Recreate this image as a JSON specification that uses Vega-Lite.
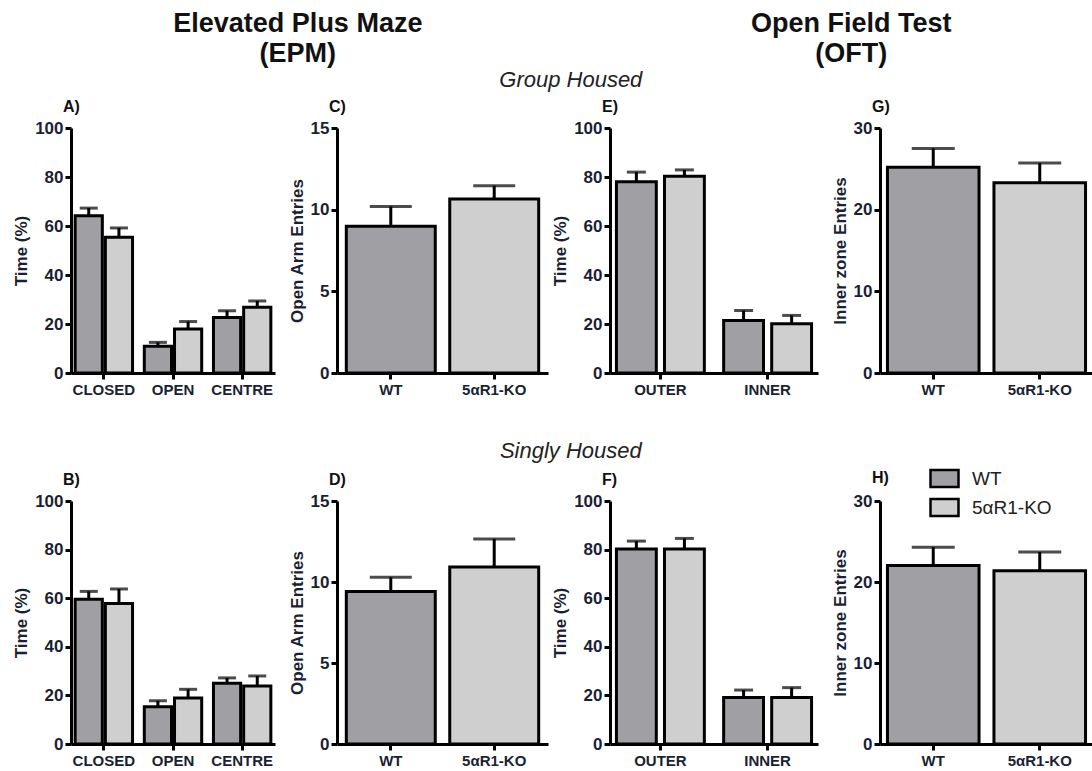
{
  "$schema": "https://vega.github.io/schema/vega-lite/v6.json",
  "padding": {"left": 12, "top": 8, "right": 0, "bottom": 0},
  "background": "white",
  "spacing": 2,
  "datasets": {
    "A": [
      {"zone": "CLOSED", "genotype": "WT", "mean": 64.2, "upper": 67.3},
      {"zone": "CLOSED", "genotype": "5αR1-KO", "mean": 55.4, "upper": 59.2},
      {"zone": "OPEN", "genotype": "WT", "mean": 10.9, "upper": 12.5},
      {"zone": "OPEN", "genotype": "5αR1-KO", "mean": 18.0, "upper": 21.0},
      {"zone": "CENTRE", "genotype": "WT", "mean": 22.7, "upper": 25.4},
      {"zone": "CENTRE", "genotype": "5αR1-KO", "mean": 26.8, "upper": 29.4}
    ],
    "B": [
      {"zone": "CLOSED", "genotype": "WT", "mean": 59.6, "upper": 62.8},
      {"zone": "CLOSED", "genotype": "5αR1-KO", "mean": 57.8, "upper": 63.8},
      {"zone": "OPEN", "genotype": "WT", "mean": 15.3, "upper": 17.8},
      {"zone": "OPEN", "genotype": "5αR1-KO", "mean": 18.9, "upper": 22.5},
      {"zone": "CENTRE", "genotype": "WT", "mean": 25.0, "upper": 27.2},
      {"zone": "CENTRE", "genotype": "5αR1-KO", "mean": 23.9, "upper": 28.0}
    ],
    "C": [
      {"genotype": "WT", "mean": 8.98, "upper": 10.2},
      {"genotype": "5αR1-KO", "mean": 10.65, "upper": 11.47}
    ],
    "D": [
      {"genotype": "WT", "mean": 9.41, "upper": 10.29},
      {"genotype": "5αR1-KO", "mean": 10.92, "upper": 12.66}
    ],
    "E": [
      {"zone": "OUTER", "genotype": "WT", "mean": 78.1, "upper": 82.0},
      {"zone": "OUTER", "genotype": "5αR1-KO", "mean": 80.3, "upper": 82.9},
      {"zone": "INNER", "genotype": "WT", "mean": 21.4, "upper": 25.5},
      {"zone": "INNER", "genotype": "5αR1-KO", "mean": 20.1, "upper": 23.5}
    ],
    "F": [
      {"zone": "OUTER", "genotype": "WT", "mean": 80.2, "upper": 83.5},
      {"zone": "OUTER", "genotype": "5αR1-KO", "mean": 80.2, "upper": 84.6},
      {"zone": "INNER", "genotype": "WT", "mean": 19.1, "upper": 22.2},
      {"zone": "INNER", "genotype": "5αR1-KO", "mean": 19.1, "upper": 23.2}
    ],
    "G": [
      {"genotype": "WT", "mean": 25.2, "upper": 27.5},
      {"genotype": "5αR1-KO", "mean": 23.3, "upper": 25.7}
    ],
    "H": [
      {"genotype": "WT", "mean": 22.05, "upper": 24.3},
      {"genotype": "5αR1-KO", "mean": 21.4, "upper": 23.7}
    ],
    "header": [
      {"test": "Elevated Plus Maze\n(EPM)"},
      {"test": "Open Field Test\n(OFT)"}
    ]
  },
  "resolve": {"legend": {"fill": "independent"}, "scale": {"xOffset": "independent"}},
  "vconcat": [
    {
      "width": 1007,
      "height": 32,
      "data": {"name": "header"},
      "mark": {"type": "text", "lineBreak": "\n", "fontSize": 27, "fontWeight": "bold", "lineHeight": 30, "baseline": "middle", "align": "center", "color": "#111111"},
      "encoding": {
        "x": {"field": "test", "type": "nominal", "scale": {"type": "point", "padding": 0.41}, "axis": null},
        "text": {"field": "test"}
      }
    },
    {
      "spacing": 43,
      "resolve": {"legend": {"fill": "independent"}, "scale": {"xOffset": "independent"}},
      "vconcat": [
        {
          "title": {"text": "Group Housed", "anchor": "middle", "frame": "bounds", "fontStyle": "italic", "fontWeight": "normal", "fontSize": 22, "color": "#222222", "offset": 7, "dx": 18},
          "bounds": "flush",
          "spacing": 62,
          "resolve": {"legend": {"fill": "independent"}, "scale": {"xOffset": "independent"}},
          "hconcat": [
            {
              "width": 204, "height": 245,
              "title": {"text": "A)"},
              "data": {"name": "A"},
              "encoding": {
                "x": {"field": "zone", "type": "nominal", "sort": ["CLOSED", "OPEN", "CENTRE"], "scale": {"paddingInner": 0.17, "paddingOuter": 0.06}, "axis": {"title": null}},
                "xOffset": {"field": "genotype", "type": "nominal", "sort": ["WT", "5αR1-KO"], "scale": {"paddingInner": 0.1}}
              },
              "layer": [
                {"mark": {"type": "bar", "stroke": "black", "strokeWidth": 3},
                 "encoding": {"y": {"field": "mean", "type": "quantitative", "scale": {"domain": [0, 100], "nice": false}, "axis": {"title": "Time (%)", "values": [0, 20, 40, 60, 80, 100]}},
                   "fill": {"field": "genotype", "type": "nominal", "scale": {"domain": ["WT", "5αR1-KO"], "range": ["#a0a0a4", "#cfcfcf"]}, "legend": null}}},
                {"mark": {"type": "rule", "strokeWidth": 3, "color": "black"},
                 "encoding": {"y": {"field": "mean", "type": "quantitative", "axis": {"title": "Time (%)", "values": [0, 20, 40, 60, 80, 100]}}, "y2": {"field": "upper"}}},
                {"mark": {"type": "tick", "thickness": 3, "size": 18, "color": "black"},
                 "encoding": {"y": {"field": "upper", "type": "quantitative", "axis": {"title": "Time (%)", "values": [0, 20, 40, 60, 80, 100]}}}}
              ]
            },
            {
              "width": 211, "height": 245,
              "title": {"text": "C)"},
              "data": {"name": "C"},
              "encoding": {
                "x": {"field": "genotype", "type": "nominal", "sort": ["WT", "5αR1-KO"], "scale": {"paddingInner": 0.14, "paddingOuter": 0.09}, "axis": {"title": null}}
              },
              "layer": [
                {"mark": {"type": "bar", "stroke": "black", "strokeWidth": 3},
                 "encoding": {"y": {"field": "mean", "type": "quantitative", "scale": {"domain": [0, 15], "nice": false}, "axis": {"title": "Open Arm Entries", "values": [0, 5, 10, 15]}},
                   "fill": {"field": "genotype", "type": "nominal", "scale": {"domain": ["WT", "5αR1-KO"], "range": ["#a0a0a4", "#cfcfcf"]}, "legend": null}}},
                {"mark": {"type": "rule", "strokeWidth": 3, "color": "black"},
                 "encoding": {"y": {"field": "mean", "type": "quantitative", "axis": {"title": "Open Arm Entries", "values": [0, 5, 10, 15]}}, "y2": {"field": "upper"}}},
                {"mark": {"type": "tick", "thickness": 3, "size": 42, "color": "black"},
                 "encoding": {"y": {"field": "upper", "type": "quantitative", "axis": {"title": "Open Arm Entries", "values": [0, 5, 10, 15]}}}}
              ]
            },
            {
              "width": 208, "height": 245,
              "title": {"text": "E)"},
              "data": {"name": "E"},
              "encoding": {
                "x": {"field": "zone", "type": "nominal", "sort": ["OUTER", "INNER"], "scale": {"paddingInner": 0.18, "paddingOuter": 0.06}, "axis": {"title": null}},
                "xOffset": {"field": "genotype", "type": "nominal", "sort": ["WT", "5αR1-KO"], "scale": {"paddingInner": 0.17}}
              },
              "layer": [
                {"mark": {"type": "bar", "stroke": "black", "strokeWidth": 3},
                 "encoding": {"y": {"field": "mean", "type": "quantitative", "scale": {"domain": [0, 100], "nice": false}, "axis": {"title": "Time (%)", "values": [0, 20, 40, 60, 80, 100]}},
                   "fill": {"field": "genotype", "type": "nominal", "scale": {"domain": ["WT", "5αR1-KO"], "range": ["#a0a0a4", "#cfcfcf"]}, "legend": null}}},
                {"mark": {"type": "rule", "strokeWidth": 3, "color": "black"},
                 "encoding": {"y": {"field": "mean", "type": "quantitative", "axis": {"title": "Time (%)", "values": [0, 20, 40, 60, 80, 100]}}, "y2": {"field": "upper"}}},
                {"mark": {"type": "tick", "thickness": 3, "size": 19, "color": "black"},
                 "encoding": {"y": {"field": "upper", "type": "quantitative", "axis": {"title": "Time (%)", "values": [0, 20, 40, 60, 80, 100]}}}}
              ]
            },
            {
              "width": 213, "height": 245,
              "title": {"text": "G)"},
              "data": {"name": "G"},
              "encoding": {
                "x": {"field": "genotype", "type": "nominal", "sort": ["WT", "5αR1-KO"], "scale": {"paddingInner": 0.14, "paddingOuter": 0.07}, "axis": {"title": null}}
              },
              "layer": [
                {"mark": {"type": "bar", "stroke": "black", "strokeWidth": 3},
                 "encoding": {"y": {"field": "mean", "type": "quantitative", "scale": {"domain": [0, 30], "nice": false}, "axis": {"title": "Inner zone Entries", "values": [0, 10, 20, 30]}},
                   "fill": {"field": "genotype", "type": "nominal", "scale": {"domain": ["WT", "5αR1-KO"], "range": ["#a0a0a4", "#cfcfcf"]}, "legend": null}}},
                {"mark": {"type": "rule", "strokeWidth": 3, "color": "black"},
                 "encoding": {"y": {"field": "mean", "type": "quantitative", "axis": {"title": "Inner zone Entries", "values": [0, 10, 20, 30]}}, "y2": {"field": "upper"}}},
                {"mark": {"type": "tick", "thickness": 3, "size": 43, "color": "black"},
                 "encoding": {"y": {"field": "upper", "type": "quantitative", "axis": {"title": "Inner zone Entries", "values": [0, 10, 20, 30]}}}}
              ]
            }
          ]
        },
        {
          "title": {"text": "Singly Housed", "anchor": "middle", "frame": "bounds", "fontStyle": "italic", "fontWeight": "normal", "fontSize": 22, "color": "#222222", "offset": 0, "dx": 18},
          "bounds": "flush",
          "spacing": 62,
          "resolve": {"legend": {"fill": "independent"}, "scale": {"xOffset": "independent"}},
          "hconcat": [
            {
              "width": 204, "height": 243,
              "title": {"text": "B)"},
              "data": {"name": "B"},
              "encoding": {
                "x": {"field": "zone", "type": "nominal", "sort": ["CLOSED", "OPEN", "CENTRE"], "scale": {"paddingInner": 0.17, "paddingOuter": 0.06}, "axis": {"title": null}},
                "xOffset": {"field": "genotype", "type": "nominal", "sort": ["WT", "5αR1-KO"], "scale": {"paddingInner": 0.1}}
              },
              "layer": [
                {"mark": {"type": "bar", "stroke": "black", "strokeWidth": 3},
                 "encoding": {"y": {"field": "mean", "type": "quantitative", "scale": {"domain": [0, 100], "nice": false}, "axis": {"title": "Time (%)", "values": [0, 20, 40, 60, 80, 100]}},
                   "fill": {"field": "genotype", "type": "nominal", "scale": {"domain": ["WT", "5αR1-KO"], "range": ["#a0a0a4", "#cfcfcf"]}, "legend": null}}},
                {"mark": {"type": "rule", "strokeWidth": 3, "color": "black"},
                 "encoding": {"y": {"field": "mean", "type": "quantitative", "axis": {"title": "Time (%)", "values": [0, 20, 40, 60, 80, 100]}}, "y2": {"field": "upper"}}},
                {"mark": {"type": "tick", "thickness": 3, "size": 18, "color": "black"},
                 "encoding": {"y": {"field": "upper", "type": "quantitative", "axis": {"title": "Time (%)", "values": [0, 20, 40, 60, 80, 100]}}}}
              ]
            },
            {
              "width": 211, "height": 243,
              "title": {"text": "D)"},
              "data": {"name": "D"},
              "encoding": {
                "x": {"field": "genotype", "type": "nominal", "sort": ["WT", "5αR1-KO"], "scale": {"paddingInner": 0.14, "paddingOuter": 0.09}, "axis": {"title": null}}
              },
              "layer": [
                {"mark": {"type": "bar", "stroke": "black", "strokeWidth": 3},
                 "encoding": {"y": {"field": "mean", "type": "quantitative", "scale": {"domain": [0, 15], "nice": false}, "axis": {"title": "Open Arm Entries", "values": [0, 5, 10, 15]}},
                   "fill": {"field": "genotype", "type": "nominal", "scale": {"domain": ["WT", "5αR1-KO"], "range": ["#a0a0a4", "#cfcfcf"]}, "legend": null}}},
                {"mark": {"type": "rule", "strokeWidth": 3, "color": "black"},
                 "encoding": {"y": {"field": "mean", "type": "quantitative", "axis": {"title": "Open Arm Entries", "values": [0, 5, 10, 15]}}, "y2": {"field": "upper"}}},
                {"mark": {"type": "tick", "thickness": 3, "size": 42, "color": "black"},
                 "encoding": {"y": {"field": "upper", "type": "quantitative", "axis": {"title": "Open Arm Entries", "values": [0, 5, 10, 15]}}}}
              ]
            },
            {
              "width": 208, "height": 243,
              "title": {"text": "F)"},
              "data": {"name": "F"},
              "encoding": {
                "x": {"field": "zone", "type": "nominal", "sort": ["OUTER", "INNER"], "scale": {"paddingInner": 0.18, "paddingOuter": 0.06}, "axis": {"title": null}},
                "xOffset": {"field": "genotype", "type": "nominal", "sort": ["WT", "5αR1-KO"], "scale": {"paddingInner": 0.17}}
              },
              "layer": [
                {"mark": {"type": "bar", "stroke": "black", "strokeWidth": 3},
                 "encoding": {"y": {"field": "mean", "type": "quantitative", "scale": {"domain": [0, 100], "nice": false}, "axis": {"title": "Time (%)", "values": [0, 20, 40, 60, 80, 100]}},
                   "fill": {"field": "genotype", "type": "nominal", "scale": {"domain": ["WT", "5αR1-KO"], "range": ["#a0a0a4", "#cfcfcf"]}, "legend": null}}},
                {"mark": {"type": "rule", "strokeWidth": 3, "color": "black"},
                 "encoding": {"y": {"field": "mean", "type": "quantitative", "axis": {"title": "Time (%)", "values": [0, 20, 40, 60, 80, 100]}}, "y2": {"field": "upper"}}},
                {"mark": {"type": "tick", "thickness": 3, "size": 19, "color": "black"},
                 "encoding": {"y": {"field": "upper", "type": "quantitative", "axis": {"title": "Time (%)", "values": [0, 20, 40, 60, 80, 100]}}}}
              ]
            },
            {
              "width": 213, "height": 243,
              "title": {"text": "H)", "offset": -23},
              "data": {"name": "H"},
              "encoding": {
                "x": {"field": "genotype", "type": "nominal", "sort": ["WT", "5αR1-KO"], "scale": {"paddingInner": 0.14, "paddingOuter": 0.07}, "axis": {"title": null}}
              },
              "layer": [
                {"mark": {"type": "bar", "stroke": "black", "strokeWidth": 3},
                 "encoding": {"y": {"field": "mean", "type": "quantitative", "scale": {"domain": [0, 30], "nice": false}, "axis": {"title": "Inner zone Entries", "values": [0, 10, 20, 30]}},
                   "fill": {"field": "genotype", "type": "nominal", "scale": {"domain": ["WT", "5αR1-KO"], "range": ["#a0a0a4", "#cfcfcf"]},
                     "legend": {"orient": "none", "legendX": 49, "legendY": -38, "title": null, "symbolType": "M-1,-0.6H1V0.6H-1Z", "symbolSize": 784, "symbolStrokeColor": "black", "symbolStrokeWidth": 2.5, "labelFontSize": 19, "labelFontWeight": "normal", "labelColor": "#222222", "labelOffset": 12, "rowPadding": -3}}}},
                {"mark": {"type": "rule", "strokeWidth": 3, "color": "black"},
                 "encoding": {"y": {"field": "mean", "type": "quantitative", "axis": {"title": "Inner zone Entries", "values": [0, 10, 20, 30]}}, "y2": {"field": "upper"}}},
                {"mark": {"type": "tick", "thickness": 3, "size": 43, "color": "black"},
                 "encoding": {"y": {"field": "upper", "type": "quantitative", "axis": {"title": "Inner zone Entries", "values": [0, 10, 20, 30]}}}}
              ]
            }
          ]
        }
      ]
    }
  ],
  "config": {
    "font": "Liberation Sans",
    "view": {"stroke": null},
    "axis": {
      "grid": false,
      "domainColor": "black", "domainWidth": 3,
      "tickColor": "black", "tickWidth": 3, "tickSize": 6,
      "labelFont": "Liberation Sans", "labelFontWeight": "bold", "labelFontSize": 15, "labelColor": "#1a1f33",
      "titleFont": "Liberation Sans", "titleFontWeight": "bold", "titleFontSize": 17, "titleColor": "#1a1f33"
    },
    "axisX": {"labelAngle": 0, "bandPosition": 0.5, "labelPadding": 3},
    "axisY": {"labelFontSize": 17, "labelPadding": 2, "titlePadding": 4},
    "title": {"anchor": "start", "frame": "group", "fontSize": 16, "fontWeight": "bold", "color": "#111111", "dx": -8, "offset": 4},
    "legend": {"labelFont": "Liberation Sans"}
  }
}
